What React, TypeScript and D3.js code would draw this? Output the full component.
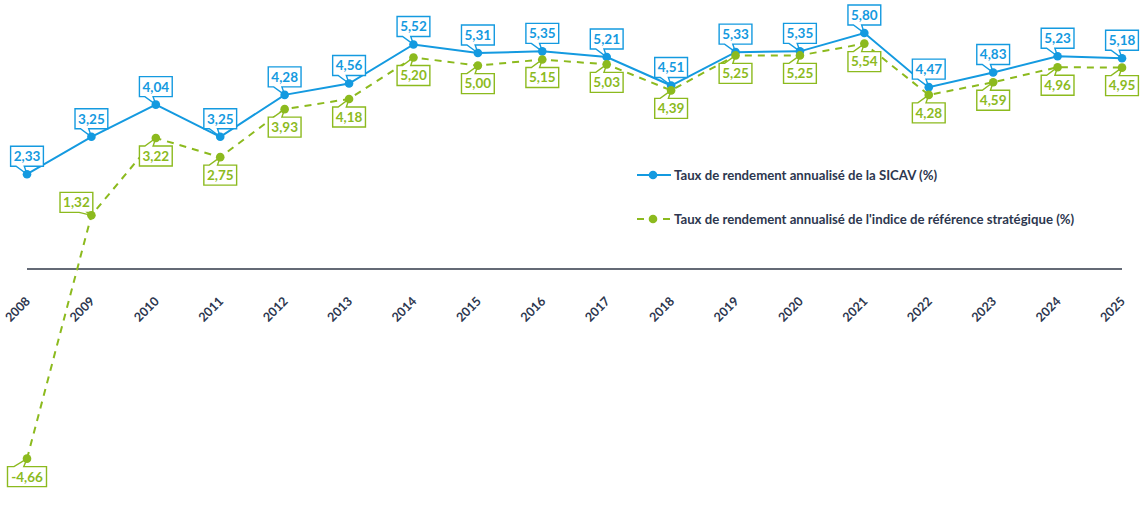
import * as d3 from "d3";

const years = [
  "2008", "2009", "2010", "2011", "2012", "2013", "2014", "2015", "2016",
  "2017", "2018", "2019", "2020", "2021", "2022", "2023", "2024", "2025",
];
const sicavValues = [
  2.33, 3.25, 4.04, 3.25, 4.28, 4.56, 5.52, 5.31, 5.35,
  5.21, 4.51, 5.33, 5.35, 5.8, 4.47, 4.83, 5.23, 5.18,
];
const benchmarkValues = [
  -4.66, 1.32, 3.22, 2.75, 3.93, 4.18, 5.2, 5.0, 5.15,
  5.03, 4.39, 5.25, 5.25, 5.54, 4.28, 4.59, 4.96, 4.95,
];
const seriesNames = [
  "Taux de rendement annualisé de la SICAV (%)",
  "Taux de rendement annualisé de l'indice de référence stratégique (%)",
];
// benchmark labels that sit up-left of their point instead of below
const leftLabelYears = ["2009"];

const blue = "#149ae0";
const green = "#8cba1e";
const textDark = "#2d374f";
const font = "Lato, 'Open Sans', sans-serif";

const width = 1141;
const height = 527;

const x = d3.scalePoint<string>().domain(years).range([27, 1122]);
const y = d3.scaleLinear().domain([-5, 6]).range([472.5, 24.9]);

const fmt = (v: number) => v.toFixed(2).replace(".", ",");

// Excel style wedgeRectCallout: box (bx, by, w, h) with a tail to (tx, ty)
function calloutPath(bx: number, by: number, w: number, h: number, tx: number, ty: number) {
  const dxPos = tx - (bx + w / 2);
  const dyPos = ty - (by + h / 2);
  const vertical = Math.abs(dyPos * w) > Math.abs(dxPos * h);
  const p = d3.path();
  const tipX = tx - bx;
  const tipY = ty - by;
  if (vertical) {
    const x1 = (w * (dxPos > 0 ? 7 : 2)) / 12;
    const x2 = (w * (dxPos > 0 ? 10 : 5)) / 12;
    if (dyPos > 0) {
      p.moveTo(0, 0); p.lineTo(w, 0); p.lineTo(w, h); p.lineTo(x2, h);
      p.lineTo(tipX, tipY); p.lineTo(x1, h); p.lineTo(0, h);
    } else {
      p.moveTo(0, 0); p.lineTo(x1, 0); p.lineTo(tipX, tipY); p.lineTo(x2, 0);
      p.lineTo(w, 0); p.lineTo(w, h); p.lineTo(0, h);
    }
  } else {
    const y1 = (h * (dyPos > 0 ? 7 : 2)) / 12;
    const y2 = (h * (dyPos > 0 ? 10 : 5)) / 12;
    if (dxPos > 0) {
      p.moveTo(0, 0); p.lineTo(w, 0); p.lineTo(w, y1); p.lineTo(tipX, tipY);
      p.lineTo(w, y2); p.lineTo(w, h); p.lineTo(0, h);
    } else {
      p.moveTo(0, 0); p.lineTo(w, 0); p.lineTo(w, h); p.lineTo(0, h);
      p.lineTo(0, y2); p.lineTo(tipX, tipY); p.lineTo(0, y1);
    }
  }
  p.closePath();
  return p.toString();
}

function Callout({ px, py, dx, dy, text, color }: {
  px: number; py: number; dx: number; dy: number; text: string; color: string;
}) {
  const w = 8 + text.length * 6.2;
  const h = 20;
  const cx = px + dx;
  const cy = py + dy;
  const bx = cx - w / 2;
  const by = cy - h / 2;
  return (
    <g transform={`translate(${bx},${by})`}>
      <path d={calloutPath(bx, by, w, h, px, py)} fill="#fff" stroke={color} strokeWidth={1.4} />
      <text
        x={w / 2}
        y={h / 2}
        dy="0.36em"
        textAnchor="middle"
        fill={color}
        fontFamily={font}
        fontWeight={700}
        fontSize={13.5}
      >
        {text}
      </text>
    </g>
  );
}

export default function App() {
  const line = d3.line<number>().x((_, i) => x(years[i]) ?? 0).y((v) => y(v));

  return (
    <svg width={width} height={height} style={{ display: "block", position: "absolute", left: 0, top: 0 }}>
      <rect width={width} height={height} fill="#fff" />

      <line x1={x(years[0])} x2={x(years[years.length - 1])} y1={y(0)} y2={y(0)} stroke="#646a76" strokeWidth={2} />

      {years.map((yr) => (
        <text
          key={yr}
          transform={`translate(${(x(yr) ?? 0) + 4},${302}) rotate(-45)`}
          textAnchor="end"
          fill={textDark}
          fontFamily={font}
          fontWeight={700}
          fontSize={12.5}
        >
          {yr}
        </text>
      ))}

      <path d={line(benchmarkValues) ?? undefined} fill="none" stroke={green} strokeWidth={2} strokeDasharray="7,6" />
      <path d={line(sicavValues) ?? undefined} fill="none" stroke={blue} strokeWidth={2} />

      {sicavValues.map((v, i) => (
        <Callout key={`s${i}`} px={x(years[i]) ?? 0} py={y(v)} dx={0} dy={-18} text={fmt(v)} color={blue} />
      ))}
      {benchmarkValues.map((v, i) => {
        const left = leftLabelYears.includes(years[i]);
        return (
          <Callout
            key={`b${i}`}
            px={x(years[i]) ?? 0}
            py={y(v)}
            dx={left ? -15 : 0}
            dy={left ? -13 : 18}
            text={fmt(v)}
            color={green}
          />
        );
      })}

      {sicavValues.map((v, i) => (
        <circle key={`sc${i}`} cx={x(years[i])} cy={y(v)} r={4.3} fill={blue} />
      ))}
      {benchmarkValues.map((v, i) => (
        <circle key={`bc${i}`} cx={x(years[i])} cy={y(v)} r={4.3} fill={green} />
      ))}

      <g fontFamily={font} fontWeight={700} fontSize={13.2} fill={textDark}>
        <line x1={637} x2={671} y1={175} y2={175} stroke={blue} strokeWidth={2} />
        <circle cx={653} cy={175} r={4.3} fill={blue} />
        <text x={674} y={175} dy="0.35em">{seriesNames[0]}</text>

        <line x1={637} x2={644} y1={219} y2={219} stroke={green} strokeWidth={2} />
        <line x1={663} x2={670} y1={219} y2={219} stroke={green} strokeWidth={2} />
        <circle cx={653} cy={219} r={4.3} fill={green} />
        <text x={674} y={219} dy="0.35em">{seriesNames[1]}</text>
      </g>
    </svg>
  );
}
